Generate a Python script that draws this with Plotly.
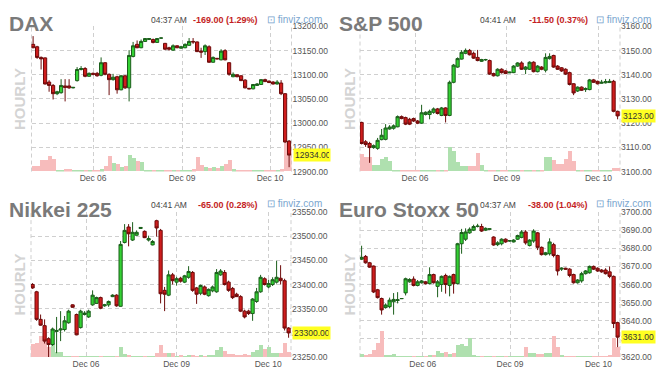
import plotly.graph_objects as go

W, H = 660, 385
FONT = "Liberation Sans, Arial, sans-serif"

day_labels = ["Dec 06", "Dec 09", "Dec 10"]

# ---------------- DAX ----------------
dax_open = [13163,13158,13136,13135,13085,13078,13061,13063,13077,13077,13073,13088,13111,13113,13097,13103,
            13103,13099,13125,13101,13090,13096,13069,13098,13073,13138,13163,13156,13169,13173,13173,13167,13176,
            13165,13156,13151,13160,13155,13156,13161,13169,13168,13149,13148,13158,13126,13134,13131,13150,13125,
            13096,13100,13098,13089,13072,13071,13078,13080,13090,13087,13085,13081,13083,13061,12963]
dax_high = [13180,13160,13138,13136,13089,13081,13067,13091,13091,13091,13074,13116,13118,13116,13105,13105,
            13106,13136,13126,13103,13102,13098,13099,13099,13151,13168,13171,13173,13176,13176,13175,13176,13177,
            13166,13158,13163,13161,13160,13165,13176,13176,13169,13156,13163,13161,13138,13135,13153,13153,13126,
            13105,13101,13099,13091,13073,13081,13083,13091,13092,13088,13087,13089,13089,13062,12965]
dax_low = [13155,13133,13111,13080,13065,13049,13058,13061,13045,13071,13072,13086,13109,13095,13096,13099,
           13096,13097,13099,13058,13088,13061,13068,13071,13045,13136,13155,13155,13168,13172,13165,13166,13175,
           13151,13150,13150,13155,13154,13155,13160,13164,13147,13135,13141,13125,13125,13132,13130,13130,13098,
           13095,13095,13087,13072,13070,13070,13077,13079,13085,13083,13080,13080,13058,12959,12909]
dax_close = [13156,13136,13133,13081,13078,13061,13065,13078,13074,13073,13074,13111,13113,13097,13103,13101,
             13098,13125,13101,13090,13095,13069,13098,13073,13140,13160,13156,13169,13175,13175,13167,13175,13176,
             13153,13153,13160,13156,13158,13163,13169,13168,13148,13147,13160,13126,13136,13133,13149,13131,13101,
             13101,13096,13088,13073,13071,13080,13081,13090,13086,13084,13081,13085,13061,12961,12934]
dax_vol = [5,5,11,11,16,12,1.5,1.5,2,2,0.5,1,1,0.4,0.4,0.3,
           1,2,5,16,8,7,4,5,17,13,10,9,1,0.5,0.5,0.5,0.3,
           0.2,0.2,0.2,0.2,0.2,0.2,0.3,
           2,15,6,4,3,4,3,5,7,11,2,1,1,1,
           0.5,0.3,0.3,0.3,0.3,0.3,
           0.5,1,2,29,22]
dax_ticks = [12900,12950,13000,13050,13100,13150,13200]

# ---------------- S&P 500 ----------------
spx_open = [3120.3,3112.3,3111.6,3109.9,3109.6,3113.2,3113.3,3117.6,3117.9,3118.5,3122.7,3122.3,3121.6,3121.9,3120.9,
            3120.0,3123.6,3123.6,3124.5,3125.9,3123.2,3126.3,3123.2,3136.9,3143.2,3146.5,3148.9,3150.1,3148.9,3147.2,
            3145.6,3146.2,3145.9,3140.5,3139.6,3142.3,3141.6,3140.8,3140.9,3143.6,3144.9,3142.3,3142.3,3145.2,3141.3,
            3143.2,3141.9,3146.7,3148.0,3143.6,3142.9,3142.3,3140.9,3136.3,3133.3,3134.9,3133.9,3133.9,3137.9,3137.3,
            3136.5,3136.7,3136.8,3137.3,3124.9]
spx_high = [3120.6,3113.0,3112.3,3111.2,3113.9,3117.6,3119.6,3119.2,3119.5,3123.2,3123.2,3122.7,3122.2,3122.3,3121.3,
            3127.6,3124.9,3125.6,3126.5,3126.3,3126.7,3126.6,3137.6,3144.5,3147.2,3150.2,3150.9,3150.7,3149.6,3150.3,
            3146.6,3146.6,3146.3,3140.9,3142.7,3142.7,3142.0,3141.3,3144.0,3145.2,3145.6,3143.6,3145.6,3145.6,3144.0,
            3143.6,3148.9,3148.9,3148.3,3144.0,3143.2,3142.7,3141.3,3136.5,3135.2,3135.2,3134.8,3138.3,3138.3,3137.6,
            3137.9,3138.3,3138.3,3137.9,3125.2]
spx_low = [3111.2,3110.2,3103.6,3109.4,3109.0,3112.9,3112.9,3117.3,3117.3,3118.3,3121.6,3119.2,3119.2,3120.5,3119.6,
           3119.7,3123.2,3121.6,3123.9,3123.6,3122.9,3120.3,3122.9,3136.5,3142.9,3146.3,3148.5,3148.0,3146.6,3145.6,
           3145.3,3145.8,3140.0,3139.3,3139.3,3140.5,3140.3,3140.7,3140.7,3143.3,3142.0,3140.3,3142.0,3141.0,3141.0,
           3141.9,3141.0,3146.3,3142.9,3142.0,3141.2,3139.9,3135.6,3131.6,3132.9,3133.3,3132.9,3133.6,3136.6,3136.0,
           3136.3,3136.4,3136.6,3124.5,3121.6]
spx_close = [3111.6,3111.2,3109.9,3110.7,3112.9,3115.0,3118.0,3118.4,3118.9,3122.7,3121.9,3119.6,3119.6,3120.9,3120.0,
             3124.3,3124.5,3124.9,3125.9,3124.0,3126.3,3123.2,3136.9,3144.0,3146.7,3149.3,3150.1,3148.3,3146.9,3145.9,
             3146.3,3146.3,3140.3,3139.6,3142.3,3140.9,3140.5,3141.1,3143.6,3144.9,3142.3,3143.2,3145.2,3141.3,3143.6,
             3142.3,3147.2,3147.6,3143.2,3142.3,3141.6,3140.3,3136.0,3132.5,3134.9,3133.6,3134.3,3137.9,3136.9,3136.3,
             3136.9,3137.2,3137.3,3124.9,3123.0]
spx_vol = [18,14,14,6,6,12,15,10,1,
           0.4,0.4,0.4,0.4,0.4,0.4,1.5,0.4,0.4,0.4,0.4,0.4,0.4,
           25,21,9,5,5,5,5,19,6,
           0.5,0.5,0.5,0.5,0.5,0.5,0.5,0.5,
           1.5,1.5,0.5,0.5,0.5,0.5,0.5,
           14,14,11,7,7,12,21,10,
           0.7,0.7,0.7,0.7,0.7,0.5,0.5,0.5,0.5,3,3]
spx_ticks = [3100,3110,3120,3130,3140,3150,3160]

# ---------------- Nikkei 225 ----------------
nik_open = [23400,23385,23328,23315,23288,23276,23303,23306,23307,23321,23358,23338,23311,23338,23333,23358,23361,
            23373,23356,23358,23375,23378,23355,23487,23519,23492,23502,23516,23510,23492,23482,23532,23512,23388,
            23378,23420,23405,23413,23405,23415,23425,23393,23382,23395,23377,23387,23385,23420,23425,23405,23392,
            23380,23375,23345,23345,23340,23365,23385,23412,23395,23400,23405,23413,23408,23310]
nik_high = [23403,23387,23338,23328,23291,23311,23333,23345,23335,23348,23359,23340,23348,23345,23348,23388,23375,
            23375,23360,23367,23380,23380,23490,23525,23525,23529,23512,23519,23512,23501,23492,23534,23515,23395,
            23429,23424,23416,23416,23420,23438,23428,23395,23400,23398,23392,23398,23432,23432,23430,23408,23395,
            23383,23378,23348,23348,23372,23393,23420,23415,23410,23415,23449,23440,23412,23312]
nik_low = [23391,23325,23315,23278,23249,23273,23258,23283,23303,23319,23352,23295,23309,23336,23331,23356,23360,
           23349,23354,23354,23374,23354,23354,23485,23479,23490,23501,23515,23496,23489,23481,23499,23361,23345,
           23376,23400,23398,23404,23403,23412,23385,23360,23378,23378,23375,23384,23383,23418,23398,23385,23370,
           23378,23343,23330,23337,23325,23362,23383,23398,23392,23397,23402,23400,23305,23290]
nik_close = [23393,23328,23316,23283,23276,23308,23305,23308,23325,23345,23353,23296,23345,23341,23345,23378,23373,
             23351,23358,23365,23378,23356,23483,23512,23505,23508,23508,23518,23497,23495,23489,23517,23381,23380,
             23420,23408,23412,23407,23418,23427,23388,23380,23398,23380,23390,23395,23425,23428,23400,23388,23373,
             23375,23345,23333,23340,23370,23385,23415,23400,23402,23410,23415,23408,23310,23300]
nik_vol = [13,15,22,26,10,15,5,5,1,
           0.3,0.3,0.3,0.3,0.3,0.3,0.3,0.3,0.3,0.3,0.3,0.3,0.3,
           10,3,2,0.5,0.5,0.5,0.5,0.5,0.5,
           4,12,4,4,4,
           1,2,1,2,2,1,2,1,2,2,
           7,10,6,3,3,2,2,3,2,5,7,12,8,10,4,4,4,14,5]
nik_ticks = [23250,23300,23350,23400,23450,23500,23550]

# ---------------- Euro Stoxx 50 ----------------
stx_open = [3674.0,3675.5,3672.0,3670.2,3657.1,3652.3,3647.3,3647.8,3650.5,3651.2,3652.2,3655.4,3661.5,3663.0,3659.5,
            3661.0,3661.5,3660.5,3665.5,3659.0,3660.0,3665.0,3659.5,3665.5,3660.5,3682.5,3685.0,3688.5,3690.0,3692.0,
            3692.0,3690.0,3690.5,3686.2,3682.0,3682.5,3685.0,3684.0,3683.5,3685.0,3686.0,3689.0,3681.5,3684.0,3688.5,
            3680.5,3676.5,3677.0,3682.0,3676.0,3668.5,3669.0,3668.5,3665.5,3661.0,3662.0,3666.0,3666.5,3670.0,3669.0,
            3668.0,3668.0,3667.0,3664.5,3639.0]
stx_high = [3681.4,3676.3,3672.5,3670.5,3657.6,3652.8,3649.6,3652.8,3655.3,3655.8,3652.5,3663.8,3663.5,3664.5,3662.5,
            3662.5,3662.0,3669.5,3666.0,3662.5,3665.0,3666.0,3665.0,3666.0,3683.0,3690.7,3691.0,3691.5,3693.0,3693.5,
            3693.5,3691.5,3690.9,3686.6,3683.9,3685.5,3685.5,3684.5,3685.0,3687.5,3690.0,3690.0,3685.0,3690.5,3689.0,
            3681.0,3678.0,3685.5,3683.0,3676.5,3669.5,3669.3,3669.0,3666.0,3663.0,3667.0,3668.0,3670.5,3670.5,3669.5,
            3668.5,3669.0,3670.0,3665.0,3639.5]
stx_low = [3673.5,3671.5,3669.2,3655.3,3652.3,3643.4,3646.7,3646.9,3643.4,3649.6,3652.0,3654.0,3661.0,3659.0,3659.0,
           3660.5,3660.0,3660.0,3660.5,3653.0,3656.0,3655.0,3653.5,3655.0,3660.0,3677.0,3684.0,3688.0,3689.5,3691.5,
           3689.0,3689.5,3690.3,3681.4,3681.2,3681.6,3683.0,3683.6,3683.2,3684.6,3685.5,3682.0,3681.0,3683.0,3679.0,
           3676.0,3676.0,3676.0,3675.0,3665.0,3667.5,3668.2,3664.0,3660.5,3660.5,3661.0,3665.5,3666.0,3668.0,3667.0,
           3666.5,3665.5,3663.5,3636.0,3625.5]
stx_close = [3675.0,3672.0,3669.6,3655.9,3652.8,3646.0,3648.7,3651.4,3651.8,3651.6,3652.3,3663.2,3662.8,3659.5,3661.5,
             3662.0,3660.5,3665.5,3661.0,3661.5,3664.5,3660.0,3664.5,3660.5,3682.5,3688.7,3689.0,3690.5,3692.0,3692.2,
             3689.5,3691.0,3690.7,3681.8,3683.0,3685.0,3683.5,3684.2,3684.5,3687.0,3689.0,3683.0,3684.5,3689.5,3680.5,
             3676.5,3677.5,3683.5,3676.0,3667.5,3669.0,3668.5,3665.0,3661.0,3662.5,3666.0,3667.5,3670.0,3668.5,3667.5,
             3667.0,3666.0,3664.5,3638.5,3631.0]
stx_vol = [3.3,2,3,7,15,27,2,2,3,1,0.5,
           0.3,0.3,0.3,0.3,0.3,0.3,
           2,2,6,4,5,3,4,12,13,11,20,2,1,1,1,
           0.3,0.3,0.3,0.3,0.3,0.3,0.3,0.3,0.3,
           10,4,4,3,3,4,4,22,10,2,1,1,1,
           0.3,0.3,0.3,0.3,0.3,0.3,0.3,
           1,2,20,10]
stx_ticks = [3620,3630,3640,3650,3660,3670,3680,3690,3700]

# ---------------- header texts ----------------
names = ["DAX", "S&P 500", "Nikkei 225", "Euro Stoxx 50"]
times = ["04:37 AM", "04:41 AM", "04:41 AM", "04:37 AM"]
changes = ["-169.00 (1.29%)", "-11.50 (0.37%)", "-65.00 (0.28%)", "-38.00 (1.04%)"]
last_labels = ["12934.00", "3123.00", "23300.00", "3631.00"]

series = [
    (dax_open, dax_high, dax_low, dax_close, dax_vol, dax_ticks),
    (spx_open, spx_high, spx_low, spx_close, spx_vol, spx_ticks),
    (nik_open, nik_high, nik_low, nik_close, nik_vol, nik_ticks),
    (stx_open, stx_high, stx_low, stx_close, stx_vol, stx_ticks),
]

# layout geometry (pixels)
geo = [
    dict(dx=(31.5, 291.5), dy=(22, 171), day_pos=[15.0, 37.25, 59.25], title=(7, 19.5), time=(188.5, 15),
         chg=(259.5, 15), fv=(265, 14.5), hr=(20, 96.5), clip=True),
    dict(dx=(360, 620), dy=(22, 171), day_pos=[13.35, 36.27, 59.2], title=(337, 19.5), time=(517.7, 15),
         chg=(589.5, 15), fv=(593.5, 14.5), hr=(350, 96.5), clip=False),
    dict(dx=(31, 291), dy=(212.5, 361.5), day_pos=[13.35, 36.0, 58.9], title=(7, 210), time=(188.5, 205.5),
         chg=(259.5, 205.5), fv=(265, 204), hr=(20, 287), clip=True),
    dict(dx=(360, 620), dy=(212.5, 361.5), day_pos=[15.3, 37.1, 59.2], title=(337, 210), time=(517.7, 205.5),
         chg=(589.5, 205.5), fv=(593.5, 204), hr=(350, 287), clip=False),
]

def px(x):
    return x / W

def py(y):
    return 1 - y / H

GRID = "#cfcfcf"
DASH = "4px,3px"
UP_FILL, UP_LINE = "#33d133", "#1b5e1b"
DN_FILL, DN_LINE = "#cf1d1d", "#6e0b0b"
VOL_UP, VOL_DN = "#afe0af", "#f7bcbc"

fig = go.Figure()
layout = dict(width=W, height=H, margin=dict(l=0, r=0, t=0, b=0), showlegend=False,
              paper_bgcolor="white", plot_bgcolor="rgba(0,0,0,0)", bargap=0, boxgap=0.2, boxgroupgap=0,
              font=dict(family=FONT))
annotations = []
shapes = []

for k, ((o, h, l, c, v, yt), g) in enumerate(zip(series, geo)):
    n = len(c)
    xs = list(range(n))
    xa = "x" if k == 0 else f"x{k+1}"
    yv = "y" if k == 0 else f"y{2*k+1}"
    yp = f"y{2*k+2}"
    vcol = [VOL_UP if cc >= oo else VOL_DN for oo, cc in zip(o, c)]
    fig.add_trace(go.Bar(x=xs, y=v, marker=dict(color=vcol, line=dict(width=0)),
                         xaxis=xa, yaxis=yv, hoverinfo="skip"))
    fig.add_trace(go.Candlestick(x=xs, open=o, high=h, low=l, close=c, xaxis=xa, yaxis=yp,
                                 increasing=dict(fillcolor=UP_FILL, line=dict(color=UP_LINE, width=1)),
                                 decreasing=dict(fillcolor=DN_FILL, line=dict(color=DN_LINE, width=1)),
                                 whiskerwidth=0))
    xkey = "xaxis" if k == 0 else f"xaxis{k+1}"
    yvkey = "yaxis" if k == 0 else f"yaxis{2*k+1}"
    ypkey = f"yaxis{2*k+2}"
    layout[xkey] = dict(domain=[px(g["dx"][0]), px(g["dx"][1])], anchor=yv, range=[-0.4, n - 0.4],
                        tickvals=g["day_pos"], ticktext=day_labels, showgrid=True, gridcolor=GRID,
                        griddash=DASH, gridwidth=1, zeroline=False, showline=False, ticks="",
                        tickfont=dict(size=8.5, color="#555555", family=FONT),
                        rangeslider=dict(visible=False), fixedrange=True)
    layout[yvkey] = dict(domain=[py(g["dy"][1]), py(g["dy"][0])], anchor=xa, range=[0, 149],
                         showgrid=False, showticklabels=False, zeroline=False, showline=False,
                         ticks="", fixedrange=True)
    span = yt[-1] - yt[0]
    layout[ypkey] = dict(overlaying=yv, anchor=xa, side="right",
                         range=[yt[0] - span * 0.0002, yt[-1] + span * 0.0002],
                         tickvals=yt, ticktext=[f"{t:.2f}" for t in yt], showgrid=True,
                         gridcolor=GRID, griddash=DASH, gridwidth=1, zeroline=False, showline=False,
                         ticks="", tickfont=dict(size=8.5, color="#555555", family=FONT), fixedrange=True)
    # dashed left / right border lines
    for xe in g["dx"]:
        shapes.append(dict(type="line", xref="paper", yref="paper", x0=px(xe), x1=px(xe),
                           y0=py(g["dy"][1]), y1=py(g["dy"][0]),
                           line=dict(color=GRID, width=1, dash=DASH), layer="below"))
    # header texts
    annotations.append(dict(xref="paper", yref="paper", x=px(g["title"][0]), y=py(g["title"][1]),
                            xanchor="left", yanchor="middle", showarrow=False, text=f"<b>{names[k]}</b>",
                            font=dict(size=21, color="#7a7a7a", family=FONT)))
    annotations.append(dict(xref="paper", yref="paper", x=px(g["time"][0]), y=py(g["time"][1]),
                            xanchor="right", yanchor="middle", showarrow=False, text=times[k],
                            font=dict(size=8.5, color="#444444", family=FONT)))
    annotations.append(dict(xref="paper", yref="paper", x=px(g["chg"][0]), y=py(g["chg"][1]),
                            xanchor="right", yanchor="middle", showarrow=False, text=f"<b>{changes[k]}</b>",
                            font=dict(size=9, color="#c41e24", family=FONT)))
    annotations.append(dict(xref="paper", yref="paper", x=px(g["fv"][0]), y=py(g["fv"][1]),
                            xanchor="left", yanchor="middle", showarrow=False, text="⊡ finviz.com",
                            font=dict(size=10, color="#7aa6cf", family=FONT)))
    annotations.append(dict(xref="paper", yref="paper", x=px(g["hr"][0]), y=py(g["hr"][1]),
                            xanchor="center", yanchor="middle", showarrow=False, text="<b>HOURLY</b>",
                            textangle=-90, font=dict(size=15, color="#d4d4d4", family=FONT)))
    # last price label
    lab = dict(xref="paper", yref=yp, x=px(g["dx"][1] + 1), y=c[-1], xanchor="left", yanchor="middle",
               showarrow=False, text=last_labels[k], bgcolor="#ffff22", borderpad=1, align="left",
               font=dict(size=8.5, color="#333333", family=FONT))
    if g["clip"]:
        lab["width"] = 329.5 - (g["dx"][1] + 1) - 3
    annotations.append(lab)

# panel boundary clip for the left column's right-hand labels
shapes.append(dict(type="rect", xref="paper", yref="paper", x0=px(329.5), x1=px(336), y0=0, y1=1,
                   fillcolor="white", line=dict(width=0), layer="above"))

layout["annotations"] = annotations
layout["shapes"] = shapes
fig.update_layout(**layout)
fig.write_html("out.html", config={"displayModeBar": False})
